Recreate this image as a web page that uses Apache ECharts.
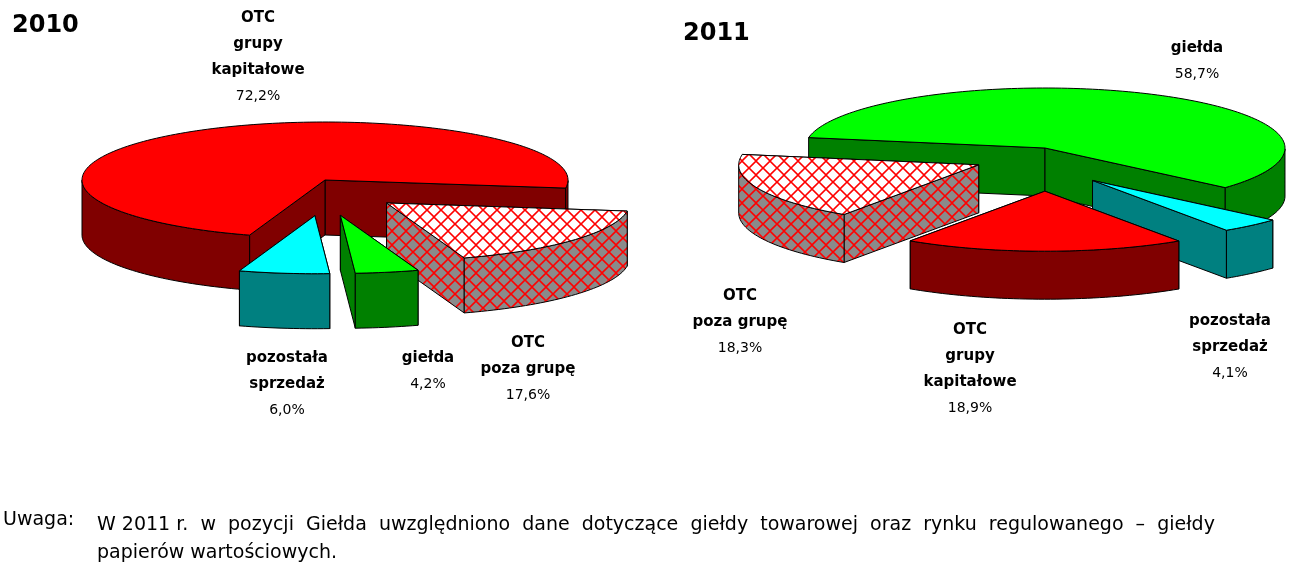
<!DOCTYPE html>
<html><head><meta charset="utf-8">
<script src="https://cdn.jsdelivr.net/npm/echarts@6/dist/echarts.min.js"></script>
<style>html,body{margin:0;padding:0;background:#fff}#c{width:1316px;height:582px}</style>
</head><body><div id="c"></div>
<script>
const categories2010 = ['OTC poza grupę', 'giełda', 'pozostała sprzedaż', 'OTC grupy kapitałowe'];
const values2010 = [17.6, 4.2, 6.0, 72.2];
const categories2011 = ['giełda', 'pozostała sprzedaż', 'OTC grupy kapitałowe', 'OTC poza grupę'];
const values2011 = [58.7, 4.1, 18.9, 18.3];
const labels2010 = ['OTC\npoza grupę', 'giełda', 'pozostała\nsprzedaż', 'OTC\ngrupy\nkapitałowe'];
const labels2011 = ['giełda', 'pozostała\nsprzedaż', 'OTC\ngrupy\nkapitałowe', 'OTC\npoza grupę'];

function makePattern(bg){
  const c=document.createElement('canvas');c.width=14;c.height=14;
  const g=c.getContext('2d');g.fillStyle=bg;g.fillRect(0,0,14,14);
  g.strokeStyle='#ff0000';g.lineWidth=1.6;
  g.beginPath();g.moveTo(0,7);g.lineTo(7,0);g.moveTo(7,14);g.lineTo(14,7);
  g.moveTo(0,7);g.lineTo(7,14);g.moveTo(7,0);g.lineTo(14,7);g.stroke();
  return {image:c,repeat:'repeat'};
}
const hatchTop=makePattern('#ffffff'), hatchSide=makePattern('#8a8a8a');
const styles={
  'OTC grupy kapitałowe':['#ff0000','#800000'],
  'giełda':['#00ff00','#008000'],
  'pozostała sprzedaż':['#00ffff','#008080'],
  'OTC poza grupę':[hatchTop,hatchSide]
};

function pie3d(cats, vals, cfg){
  const total=vals.reduce((a,b)=>a+b,0);
  let a0=cfg.start;
  const slices=cats.map((c,i)=>{const s=a0, e=a0+vals[i]/total*360; a0=e; return {c,s,e};});
  const els=[];
  const rad=d=>d*Math.PI/180;
  slices.map(sl=>{
    const mid=rad((sl.s+sl.e)/2);
    const ex=sl.c===cfg.still?0:cfg.explode;
    sl.cx=cfg.cx+ex*Math.cos(mid); sl.cy=cfg.cy+ex*Math.sin(mid)*cfg.k;
    sl.order=Math.sin(mid)*cfg.ry+sl.cy;
    return sl;
  }).sort((a,b)=>a.order-b.order).forEach(sl=>{
    const [top,side]=styles[sl.c];
    const P=(a,d)=>[sl.cx+cfg.rx*Math.cos(rad(a)), sl.cy+cfg.ry*Math.sin(rad(a))+(d||0)];
    const D=cfg.depth;
    const stroke={stroke:'#000',lineWidth:1};
    const walls=[sl.s,sl.e].sort((x,y)=>Math.sin(rad(x))-Math.sin(rad(y)));
    walls.forEach(a=>{
      const p=P(a);
      els.push({type:'polygon',shape:{points:[[sl.cx,sl.cy],p,[p[0],p[1]+D],[sl.cx,sl.cy+D]]},style:Object.assign({fill:side},stroke)});
    });
    let run=[];
    const flush=()=>{ if(run.length>1){
      const pts=run.map(a=>P(a)).concat(run.slice().reverse().map(a=>P(a,D)));
      els.push({type:'polygon',shape:{points:pts},style:Object.assign({fill:side},stroke)});}
      run=[]; };
    const n=Math.ceil((sl.e-sl.s)/1.5);
    for(let i=0;i<=n;i++){
      const a=sl.s+(sl.e-sl.s)*i/n;
      if(Math.sin(rad(a))>=-0.001) run.push(a); else flush();
    }
    flush();
    const pts=[[sl.cx,sl.cy]];
    for(let i=0;i<=n;i++) pts.push(P(sl.s+(sl.e-sl.s)*i/n));
    els.push({type:'polygon',shape:{points:pts},style:Object.assign({fill:top},stroke)});
  });
  return els;
}

function lbl(x,y,name,val){
  return [
    {type:'text',x:x,y:y,style:{text:name,font:'bold 15px "DejaVu Sans"',fill:'#000',align:'center',verticalAlign:'top',lineHeight:26}},
    {type:'text',x:x,y:y+26*name.split('\n').length,style:{text:val.toFixed(1).replace('.',',')+'%',font:'14px "DejaVu Sans"',fill:'#000',align:'center',verticalAlign:'top',lineHeight:26}}
  ];
}

const chart=echarts.init(document.getElementById('c'));
chart.setOption({
  animation:false,
  series:[{
    type:'custom',coordinateSystem:'none',data:[0],
    renderItem:function(){
      const a=pie3d(categories2010,values2010,{cx:325,cy:180,rx:243,ry:58,depth:55,start:8,explode:80,k:0.45,still:'OTC grupy kapitałowe'});
      const b=pie3d(categories2011,values2011,{cx:1045,cy:148,rx:240,ry:60,depth:48,start:190,explode:72,k:0.6,still:'giełda'});
      return {type:'group',children:a.concat(b)};
    }
  }],
  graphic:[
    {type:'text',x:12,y:14,style:{text:'2010',font:'bold 24px "DejaVu Sans"',fill:'#000'}},
    {type:'text',x:683,y:22,style:{text:'2011',font:'bold 24px "DejaVu Sans"',fill:'#000'}},
    ...lbl(528,330,labels2010[0],values2010[0]),
    ...lbl(428,345,labels2010[1],values2010[1]),
    ...lbl(287,345,labels2010[2],values2010[2]),
    ...lbl(258,5,labels2010[3],values2010[3]),
    ...lbl(1197,35,labels2011[0],values2011[0]),
    ...lbl(1230,308,labels2011[1],values2011[1]),
    ...lbl(970,317,labels2011[2],values2011[2]),
    ...lbl(740,283,labels2011[3],values2011[3]),
    {type:'text',x:3,y:511,style:{text:'Uwaga:',font:'19px "DejaVu Sans"',fill:'#000'}},
    {type:'text',x:97,y:511,style:{text:'W 2011 r.  w  pozycji  Giełda  uwzględniono  dane  dotyczące  giełdy  towarowej  oraz  rynku  regulowanego  –  giełdy\npapierów wartościowych.',font:'19px "DejaVu Sans"',fill:'#000',lineHeight:28}}
  ]
});
</script></body></html>
